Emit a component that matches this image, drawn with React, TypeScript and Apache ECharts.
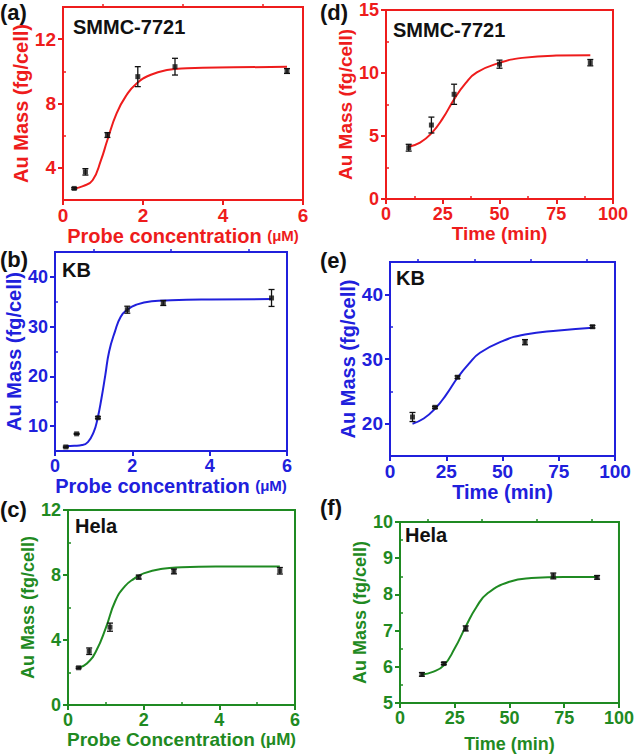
import React, { useEffect, useRef } from "react";
import * as echarts from "echarts";

// ---------- data ----------
const concX = [0.28, 0.56, 1.11, 1.87, 2.8, 5.6];

const aY = [2.72, 3.75, 6.04, 9.67, 10.29, 10.02];
const aErr = [0.05, 0.2, 0.15, 0.62, 0.52, 0.15];
const aFitX = [0.28, 0.5, 0.74, 0.95, 1.11, 1.34, 1.59, 1.84, 2.18, 2.6, 3.1, 4.27, 5.6];
const aFitY = [2.72, 2.86, 3.23, 4.48, 5.73, 7.39, 8.53, 9.25, 9.77, 10.08, 10.19, 10.25, 10.28];

const bY = [5.82, 8.45, 11.69, 33.4, 34.75, 35.76];
const bErr = [0.15, 0.1, 0.2, 0.7, 0.5, 1.7];
const bFitX = [0.28, 0.5, 0.7, 0.85, 1.0, 1.1, 1.2, 1.3, 1.4, 1.55, 1.7, 1.87, 2.1, 2.5, 3.0, 4.0, 5.6];
const bFitY = [6.0, 6.05, 6.2, 6.8, 8.8, 11.5, 15.5, 20.2, 25.0, 29.0, 32.0, 33.4, 34.4, 35.1, 35.3, 35.45, 35.55];

const cY = [2.29, 3.31, 4.79, 7.87, 8.22, 8.26];
const cErr = [0.05, 0.2, 0.25, 0.12, 0.15, 0.2];
const cFitX = [0.28, 0.5, 0.75, 1.0, 1.25, 1.5, 1.75, 2.0, 2.5, 3.0, 4.0, 5.6];
const cFitY = [2.29, 2.55, 3.35, 4.75, 6.4, 7.3, 7.78, 8.1, 8.38, 8.47, 8.52, 8.53];

const dX = [10, 20, 30, 50, 90];
const dY = [4.07, 5.87, 8.31, 10.7, 10.82];
const dErr = [0.27, 0.63, 0.8, 0.32, 0.25];
const dFitX = [10, 15, 20, 25, 30, 35, 40, 50, 60, 75, 90];
const dFitY = [4.15, 4.47, 5.21, 6.4, 7.91, 9.18, 10.05, 10.8, 11.2, 11.38, 11.4];

const eX = [10, 20, 30, 60, 90];
const eY = [21.03, 22.53, 27.18, 32.6, 34.99];
const eErr = [0.7, 0.15, 0.2, 0.4, 0.2];
const eFitX = [10, 15, 20, 25, 30, 35, 40, 50, 60, 75, 90];
const eFitY = [20.0, 20.8, 22.3, 24.5, 27.1, 29.25, 30.96, 32.76, 33.8, 34.42, 34.83];

const fX = [10, 20, 30, 70, 90];
const fY = [5.79, 6.09, 7.06, 8.51, 8.47];
const fErr = [0.05, 0.03, 0.07, 0.08, 0.05];
const fFitX = [10, 15, 20, 25, 30, 35, 40, 50, 60, 75, 90];
const fFitY = [5.79, 5.86, 6.04, 6.51, 7.11, 7.66, 8.03, 8.35, 8.45, 8.48, 8.48];

const concMajor = [0, 2, 4, 6];
const concMinor = [1, 3, 5];
const timeMajor = [0, 25, 50, 75, 100];
const timeMinor = [12.5, 37.5, 62.5, 87.5];

// ---------- style ----------
const FONT = "'Liberation Sans', Arial, sans-serif";
const RED = "#ee1c1c";
const BLUE = "#2020dc";
const GREEN = "#1f8a22";

type Panel = {
  label: string;
  cell: string;
  color: string;
  box: [number, number, number, number];
  xMin: number; xMax: number; xMajor: number[]; xMinor: number[];
  yMin: number; yMax: number; yMajor: number[]; yMinor: number[];
  xName: string; xNameSize: number; unitSize: number; yNameSize: number;
  xNameGap: number; yNameGap: number; tickSize: number;
  x: number[]; y: number[]; err: number[]; fitX: number[]; fitY: number[];
  labelPos: [number, number]; cellPos: [number, number];
};

const panels: Panel[] = [
  {
    label: "(a)", cell: "SMMC-7721", color: RED, box: [63, 7, 240, 193],
    xMin: 0, xMax: 6, xMajor: concMajor, xMinor: concMinor,
    yMin: 2, yMax: 14, yMajor: [4, 8, 12], yMinor: [6, 10],
    xName: "Probe concentration ", xNameSize: 20, unitSize: 15, yNameSize: 20,
    xNameGap: 21, yNameGap: 26, tickSize: 19,
    x: concX, y: aY, err: aErr, fitX: aFitX, fitY: aFitY,
    labelPos: [0, 1], cellPos: [73, 27],
  },
  {
    label: "(b)", cell: "KB", color: BLUE, box: [55, 252, 232, 199],
    xMin: 0, xMax: 6, xMajor: concMajor, xMinor: concMinor,
    yMin: 5, yMax: 45, yMajor: [10, 20, 30, 40], yMinor: [15, 25, 35],
    xName: "Probe concentration ", xNameSize: 20, unitSize: 15, yNameSize: 20,
    xNameGap: 22, yNameGap: 29, tickSize: 18,
    x: concX, y: bY, err: bErr, fitX: bFitX, fitY: bFitY,
    labelPos: [0, 248], cellPos: [62, 270],
  },
  {
    label: "(c)", cell: "Hela", color: GREEN, box: [68, 510, 227, 195],
    xMin: 0, xMax: 6, xMajor: concMajor, xMinor: concMinor,
    yMin: 0, yMax: 12, yMajor: [0, 4, 8, 12], yMinor: [2, 6, 10],
    xName: "Probe Concentration ", xNameSize: 19, unitSize: 17, yNameSize: 18,
    xNameGap: 21, yNameGap: 19, tickSize: 18,
    x: concX, y: cY, err: cErr, fitX: cFitX, fitY: cFitY,
    labelPos: [0, 498], cellPos: [75, 526],
  },
  {
    label: "(d)", cell: "SMMC-7721", color: RED, box: [386, 10, 227, 189],
    xMin: 0, xMax: 100, xMajor: timeMajor, xMinor: timeMinor,
    yMin: 0, yMax: 15, yMajor: [0, 5, 10, 15], yMinor: [2.5, 7.5, 12.5],
    xName: "Time (min)", xNameSize: 19, unitSize: 19, yNameSize: 19,
    xNameGap: 21, yNameGap: 30, tickSize: 18,
    x: dX, y: dY, err: dErr, fitX: dFitX, fitY: dFitY,
    labelPos: [320, 1], cellPos: [393, 30],
  },
  {
    label: "(e)", cell: "KB", color: BLUE, box: [390, 262, 225, 194],
    xMin: 0, xMax: 100, xMajor: timeMajor, xMinor: timeMinor,
    yMin: 15, yMax: 45, yMajor: [20, 30, 40], yMinor: [25, 35],
    xName: "Time (min)", xNameSize: 20, unitSize: 20, yNameSize: 20,
    xNameGap: 22, yNameGap: 31, tickSize: 19,
    x: eX, y: eY, err: eErr, fitX: eFitX, fitY: eFitY,
    labelPos: [320, 249], cellPos: [396, 278],
  },
  {
    label: "(f)", cell: "Hela", color: GREEN, box: [400, 522, 222, 181],
    xMin: 0, xMax: 100, xMajor: timeMajor, xMinor: timeMinor,
    yMin: 5, yMax: 10, yMajor: [5, 6, 7, 8, 9, 10], yMinor: [5.5, 6.5, 7.5, 8.5, 9.5],
    xName: "Time (min)", xNameSize: 18, unitSize: 18, yNameSize: 18,
    xNameGap: 32, yNameGap: 28, tickSize: 18,
    x: fX, y: fY, err: fErr, fitX: fFitX, fitY: fFitY,
    labelPos: [320, 496], cellPos: [405, 535],
  },
];

function buildOption() {
  const grid: any[] = [];
  const xAxis: any[] = [];
  const yAxis: any[] = [];
  const series: any[] = [];
  const graphic: any[] = [];

  panels.forEach((p, i) => {
    const [l, t, w, h] = p.box;
    grid.push({
      left: l, top: t, width: w, height: h, show: true,
      borderColor: p.color, borderWidth: 2, backgroundColor: "transparent",
      containLabel: false,
    });
    const tickStyle = { color: p.color, fontSize: p.tickSize, fontWeight: "bold", fontFamily: FONT };
    const isConc = p.xName.startsWith("Probe");
    const xNameText = isConc ? `{t|${p.xName}}{u|(μM)}` : `{t|${p.xName}}`;
    xAxis.push({
      type: "value", gridIndex: i, min: p.xMin, max: p.xMax,
      axisLine: { show: true, onZero: false, lineStyle: { color: p.color, width: 2 } },
      axisTick: { show: true, customValues: p.xMajor, length: 5, lineStyle: { color: p.color, width: 2 } },
      axisLabel: { customValues: p.xMajor, margin: 6, ...tickStyle },
      splitLine: { show: false },
      name: xNameText, nameLocation: "middle", nameGap: p.xNameGap,
      nameTextStyle: {
        rich: {
          t: { color: p.color, fontSize: p.xNameSize, fontWeight: "bold", fontFamily: FONT },
          u: { color: p.color, fontSize: p.unitSize, fontWeight: "bold", fontFamily: FONT },
        },
      },
    });
    xAxis.push({
      type: "value", gridIndex: i, min: p.xMin, max: p.xMax,
      axisLine: { show: false },
      axisTick: { show: true, customValues: p.xMinor, length: 3, lineStyle: { color: p.color, width: 1.5 } },
      axisLabel: { show: false },
      splitLine: { show: false },
    });
    yAxis.push({
      type: "value", gridIndex: i, min: p.yMin, max: p.yMax,
      axisLine: { show: true, onZero: false, lineStyle: { color: p.color, width: 2 } },
      axisTick: { show: true, customValues: p.yMajor, length: 5, lineStyle: { color: p.color, width: 2 } },
      axisLabel: { customValues: p.yMajor, margin: 7, ...tickStyle },
      splitLine: { show: false },
      name: "Au Mass (fg/cell)", nameLocation: "middle", nameRotate: 90, nameGap: p.yNameGap,
      nameTextStyle: { color: p.color, fontSize: p.yNameSize, fontWeight: "bold", fontFamily: FONT },
    });
    yAxis.push({
      type: "value", gridIndex: i, min: p.yMin, max: p.yMax,
      axisLine: { show: false },
      axisTick: { show: true, customValues: p.yMinor, length: 3, lineStyle: { color: p.color, width: 1.5 } },
      axisLabel: { show: false },
      splitLine: { show: false },
    });

    const xi = i * 2;
    series.push({
      type: "line", xAxisIndex: xi, yAxisIndex: xi,
      data: p.fitX.map((x, k) => [x, p.fitY[k]]),
      smooth: 0.5, showSymbol: false, symbol: "none",
      lineStyle: { color: p.color, width: 2 }, z: 2, silent: true,
    });
    series.push({
      type: "custom", xAxisIndex: xi, yAxisIndex: xi, coordinateSystem: "cartesian2d",
      data: p.x.map((x, k) => [x, p.y[k], p.err[k]]),
      encode: { x: 0, y: 1 }, z: 3, silent: true,
      renderItem: (params: any, api: any) => {
        const x = api.value(0), y = api.value(1), e = api.value(2);
        const hi = api.coord([x, y + e]);
        const lo = api.coord([x, y - e]);
        const cw = 3;
        const st = { stroke: "#111", lineWidth: 1.3 };
        return {
          type: "group",
          children: [
            { type: "line", shape: { x1: hi[0], y1: hi[1], x2: lo[0], y2: lo[1] }, style: st },
            { type: "line", shape: { x1: hi[0] - cw, y1: hi[1], x2: hi[0] + cw, y2: hi[1] }, style: st },
            { type: "line", shape: { x1: lo[0] - cw, y1: lo[1], x2: lo[0] + cw, y2: lo[1] }, style: st },
          ],
        };
      },
    });
    series.push({
      type: "scatter", xAxisIndex: xi, yAxisIndex: xi,
      data: p.x.map((x, k) => [x, p.y[k]]),
      symbol: "rect", symbolSize: 5, itemStyle: { color: "#111" }, z: 4, silent: true,
    });

    graphic.push({
      type: "text", left: p.labelPos[0], top: p.labelPos[1],
      style: { text: p.label, fill: "#111", fontSize: 22, fontWeight: "bold", fontFamily: FONT },
    });
    graphic.push({
      type: "text", x: p.cellPos[0], y: p.cellPos[1],
      style: {
        text: p.cell, fill: "#111", fontSize: 20, fontWeight: "bold", fontFamily: FONT,
        verticalAlign: "middle", align: "left",
      },
    });
  });

  return { animation: false, backgroundColor: "#fff", grid, xAxis, yAxis, series, graphic };
}

export default function App() {
  const ref = useRef<HTMLDivElement>(null);
  useEffect(() => {
    if (!ref.current) return;
    const chart = echarts.init(ref.current, undefined, { renderer: "svg" });
    chart.setOption(buildOption() as any);
    return () => chart.dispose();
  }, []);
  return (
    <div
      ref={ref}
      style={{ position: "absolute", left: 0, top: 0, width: 637, height: 755, background: "#fff" }}
    />
  );
}
